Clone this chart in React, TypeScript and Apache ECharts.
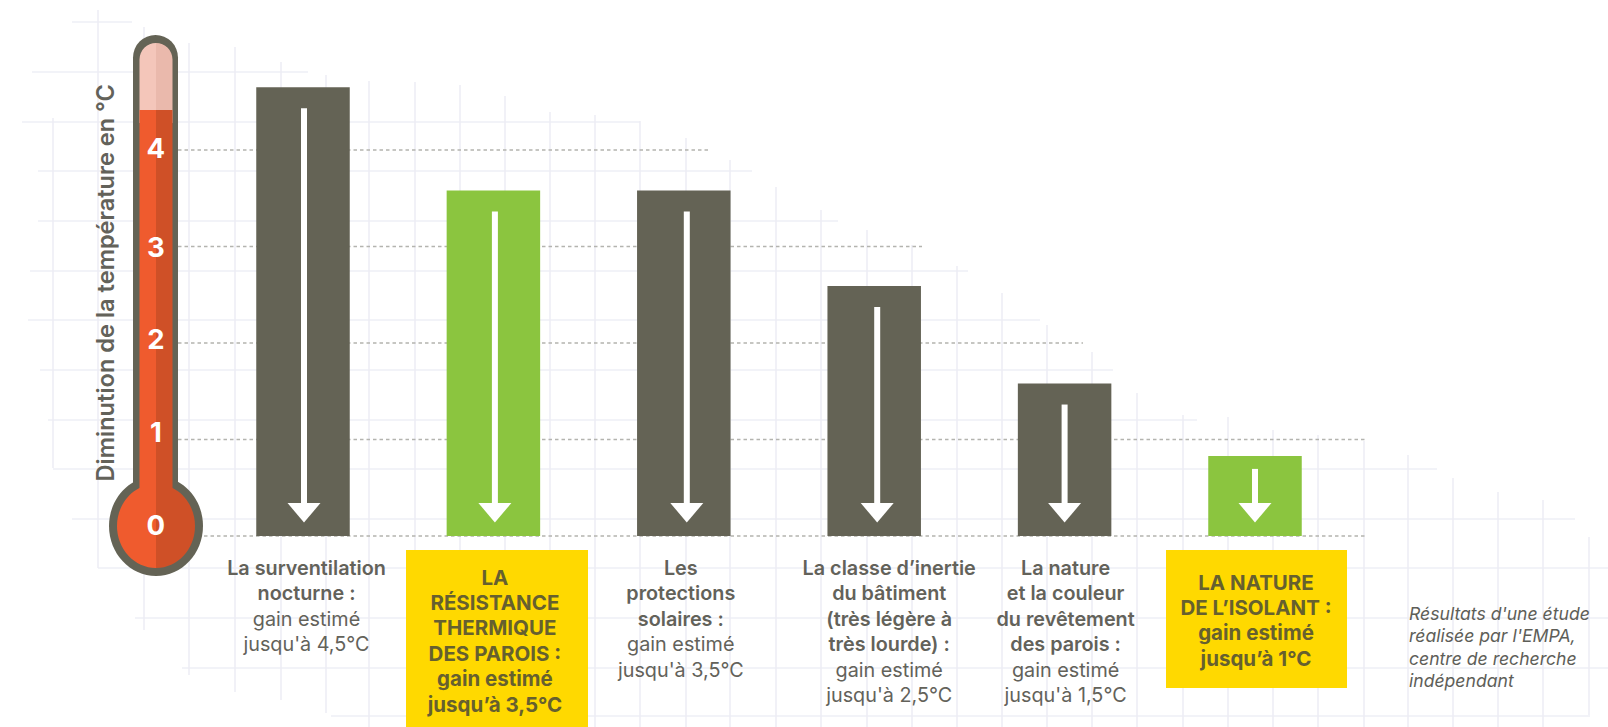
import React, { useEffect, useRef } from "react";
import * as echarts from "echarts";

const categories = [
  "La surventilation nocturne",
  "La résistance thermique des parois",
  "Les protections solaires",
  "La classe d'inertie du bâtiment",
  "La nature et la couleur du revêtement des parois",
  "La nature de l'isolant",
];
const gains = [4.65, 3.58, 3.58, 2.59, 1.58, 0.83];
const highlighted = [false, true, false, false, false, true];
const labelLines = [
  ["La surventilation", "nocturne :", "gain estimé", "jusqu'à 4,5°C"],
  ["LA", "RÉSISTANCE", "THERMIQUE", "DES PAROIS :", "gain estimé", "jusqu’à 3,5°C"],
  ["Les", "protections", "solaires :", "gain estimé", "jusqu'à 3,5°C"],
  ["La classe d’inertie", "du bâtiment", "(très légère à", "très lourde) :", "gain estimé", "jusqu'à 2,5°C"],
  ["La nature", "et la couleur", "du revêtement", "des parois :", "gain estimé", "jusqu'à 1,5°C"],
  ["LA NATURE", "DE L’ISOLANT :", "gain estimé", "jusqu’à 1°C"],
];
const tickLabels = ["0", "1", "2", "3", "4"];
const guideValues = [4, 3, 2, 1, 0];
const axisTitle = "Diminution de la température en °C";
const noteLines = ["Résultats d'une étude", "réalisée par l'EMPA,", "centre de recherche", "indépendant"];

// layout and decoration (not data)
const guideEnds = [708, 922, 1083, 1366, 1366];
const tickLift = [11, 8, 4, 0, 2];
const arrowShift = [1, 1.5, 3, 3, 0, 0];
const labelShift = [3.5, 1.5, -3, 15, 1, 1];
const labelTopLine = [568, 577, 568, 568, 568, 582];
const boxes: Record<number, number[]> = { 1: [406, 550, 182, 177], 5: [1166, 550, 181, 138] };
const paperH = [
  [72, 22, 132], [32, 72, 308], [22, 122, 640], [38, 171, 752], [38, 221, 838], [30, 271, 968],
  [28, 320, 1040], [40, 370, 1113], [48, 420, 1197], [53, 469, 1437], [72, 519, 1575], [98, 568, 1608],
  [135, 618, 1608], [182, 668, 1608], [331, 716, 1590],
];
const paperV = [
  [53, 118, 468], [98, 10, 568], [144, 27, 630], [189, 43, 675], [235, 47, 692], [281, 62, 700],
  [326, 75, 713], [369, 81, 727], [415, 82, 727], [460, 85, 727], [505, 96, 727], [550, 112, 727],
  [595, 115, 727], [640, 121, 727], [686, 138, 727], [730, 160, 727], [776, 187, 727], [821, 210, 727],
  [867, 230, 727], [912, 245, 727], [957, 266, 727], [1002, 293, 727], [1047, 325, 727], [1092, 352, 727],
  [1137, 393, 727], [1183, 415, 727], [1228, 417, 727], [1273, 430, 727], [1318, 435, 727], [1364, 441, 727],
  [1408, 455, 727], [1453, 478, 727], [1498, 492, 727], [1543, 500, 727], [1589, 537, 715],
];

const FONT = "Inter";
const GREY = "#646355";
const GREEN = "#8BC53F";
const YELLOW = "#FFD900";
const TEXT = "#63625A";
const split = (a: string, b: string) => ({
  type: "linear", x: 0, y: 0, x2: 1, y2: 0,
  colorStops: [{ offset: 0, color: a }, { offset: 0.5, color: a }, { offset: 0.5, color: b }, { offset: 1, color: b }],
});

export default function App() {
  const ref = useRef<HTMLDivElement>(null);
  useEffect(() => {
    document.body.style.margin = "0";
    const chart = echarts.init(ref.current!, undefined, { renderer: "svg" });
    const paper: any[] = [
      ...paperH.map(([x1, y, x2]) => ({ type: "line", z: 0, shape: { x1, y1: y, x2, y2: y }, style: { stroke: "#EEEFF6", lineWidth: 1.5 } })),
      ...paperV.map(([x, y1, y2]) => ({ type: "line", z: 0, shape: { x1: x, y1, x2: x, y2 }, style: { stroke: "#ECEDF5", lineWidth: 1.5 } })),
    ];
    const thermometer: any[] = [
      { type: "rect", z: 4, shape: { x: 133, y: 35, width: 45, height: 470, r: [22.5, 22.5, 0, 0] }, style: { fill: GREY } },
      { type: "ellipse", z: 4, shape: { cx: 156, cy: 526, rx: 47, ry: 50 }, style: { fill: GREY } },
      { type: "rect", z: 5, shape: { x: 139.5, y: 43, width: 33, height: 80, r: [16.5, 16.5, 0, 0] }, style: { fill: split("#F4C6BA", "#EAB9AC") } },
      { type: "rect", z: 5, shape: { x: 139.5, y: 110, width: 33, height: 400 }, style: { fill: split("#EF5B2E", "#CF5027") } },
      { type: "ellipse", z: 5, shape: { cx: 156, cy: 526, rx: 39, ry: 42 }, style: { fill: split("#EF5B2E", "#CF5027") } },
    ];
    const note = noteLines.map((text, i) => ({
      type: "text", z: 6, x: 1409, y: 613 + i * 22.5,
      style: { text, font: `italic 400 17.6px ${FONT}`, fill: "#5E5E58", align: "left", verticalAlign: "middle" },
    }));
    chart.setOption({
      animation: false,
      graphic: { elements: [...paper, ...thermometer, ...note] },
      grid: { left: 207.8, width: 1142.4, top: 53.5, height: 482.5 },
      xAxis: {
        type: "category", data: categories,
        axisLine: { show: false }, axisTick: { show: false }, axisLabel: { show: false },
      },
      yAxis: {
        type: "value", min: 0, max: 5, interval: 1, z: 10,
        name: axisTitle, nameLocation: "middle", nameGap: 90,
        nameTextStyle: { fontFamily: FONT, fontWeight: 600, fontSize: 23.6, color: TEXT, padding: [0, 0, 0, 24] },
        axisLine: { show: false }, axisTick: { show: false }, splitLine: { show: false },
        axisLabel: {
          margin: 52, align: "center",
          formatter: (v: number) => (tickLabels[v] === undefined ? "" : `{t${v}|${tickLabels[v]}}`),
          rich: Object.fromEntries(tickLift.map((lift, i) => [`t${i}`, {
            fontFamily: FONT, fontWeight: 700, fontSize: 27.5, color: "#FFFFFF", padding: [0, 0, lift * 2, 0],
          }])),
        },
      },
      series: [
        {
          type: "custom", name: "guides", z: 1, silent: true,
          data: guideValues.map((v, i) => [0, v, i]),
          renderItem: (_p: any, api: any) => {
            const y = api.coord([0, api.value(1)])[1];
            return {
              type: "line", shape: { x1: 178, y1: y, x2: guideEnds[api.value(2)], y2: y },
              style: { stroke: "#B4B4AF", lineWidth: 1.5, lineDash: [3.5, 3] },
            };
          },
        },
        {
          type: "bar", name: "gain", z: 2, barWidth: 93.5, silent: true,
          data: gains.map((v, i) => ({ value: v, itemStyle: { color: highlighted[i] ? GREEN : GREY } })),
        },
        {
          type: "custom", name: "arrows", z: 3, silent: true,
          data: gains.map((v, i) => [i, v]),
          renderItem: (p: any, api: any) => {
            const [x0, top] = api.coord([api.value(0), api.value(1)]);
            const base = api.coord([api.value(0), 0])[1];
            const x = x0 + arrowShift[p.dataIndex];
            const start = top + (base - top < 100 ? 13 : 21);
            return {
              type: "group",
              children: [
                { type: "rect", shape: { x: x - 3, y: start, width: 6, height: base - 28 - start }, style: { fill: "#FFFFFF" } },
                { type: "polygon", shape: { points: [[x - 16.5, base - 33], [x + 16.5, base - 33], [x, base - 13.5]] }, style: { fill: "#FFFFFF" } },
              ],
            };
          },
        },
        {
          type: "custom", name: "labels", z: 3, silent: true,
          data: categories.map((_c, i) => [i, 0]),
          renderItem: (p: any, api: any) => {
            const i = p.dataIndex;
            const x = api.coord([api.value(0), 0])[0] + labelShift[i];
            const lines = labelLines[i];
            const children: any[] = [];
            const b = boxes[i];
            if (b) children.push({ type: "rect", shape: { x: b[0], y: b[1], width: b[2], height: b[3] }, style: { fill: YELLOW } });
            lines.forEach((text, k) => {
              const bold = highlighted[i] || k < lines.length - 2;
              children.push({
                type: "text",
                style: {
                  text, x, y: labelTopLine[i] + k * 25.4, align: "center", verticalAlign: "middle",
                  font: `${highlighted[i] ? 700 : bold ? 600 : 400} ${highlighted[i] ? 20.5 : 19.8}px ${FONT}`,
                  fill: highlighted[i] ? "#66602F" : TEXT,
                },
              });
            });
            return { type: "group", children };
          },
        },
      ],
    });
    return () => chart.dispose();
  }, []);
  return <div ref={ref} style={{ width: 1608, height: 727, position: "absolute", left: 0, top: 0, background: "#fff" }} />;
}
